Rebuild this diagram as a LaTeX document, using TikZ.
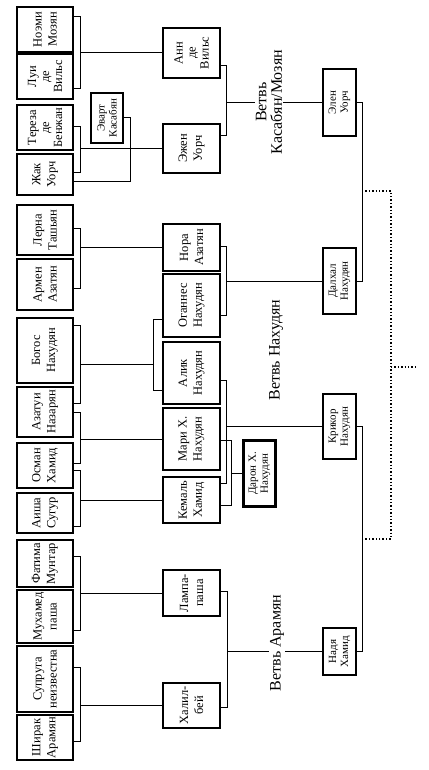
\documentclass[tikz,border=0pt]{standalone}
\usepackage{fontspec}
\setmainfont{Liberation Serif}
\newcommand\famb[7][]{%
  \pgfmathsetmacro\fbw{#6-#4}\pgfmathsetmacro\fbh{#5-#3}%
  \node[fambox,rotate=90,minimum width=\fbw pt,minimum height=\fbh pt,#1] (#2) at ({(#3+#5)/2},{(#4+#6)/2}) {#7};}
\newcommand\bracket[5]{%
  \draw[conn] (#1.south |- 0,#2) -- (#5,#2) -- (#5,#4) -- (#3.south |- 0,#4);}
\begin{document}
\begin{tikzpicture}[x=1pt,y=-1pt,
  fambox/.style={draw,line width=1.2pt,inner sep=0.5pt,outer sep=0pt,align=center,font=\fontsize{12.5}{15}\selectfont},
  three/.style={font=\fontsize{12.5}{13}\selectfont},
  small/.style={font=\fontsize{11}{12}\selectfont},
  conn/.style={line width=1pt},
  dotl/.style={line width=1.4pt,dash pattern=on 1.4pt off 2pt},
  branch/.style={rotate=90,fill=white,inner sep=1pt,align=center,font=\fontsize{16}{15.5}\selectfont}]
\useasboundingbox (0,0) rectangle (428,770);
\fill[white] (0,0) rectangle (428,770);
% left column
\famb{noemi}{17}{7}{73}{52}{Ноэми\\Мозян}
\famb[three]{lui}{17}{54}{73}{99}{Луи\\де\\Вильс}
\famb[three]{tereza}{17}{105}{73}{150}{Тереза\\де\\Бенжан}
\famb{zhak}{17}{154}{73}{195}{Жак\\Уорч}
\famb{lerna}{17}{205}{73}{255}{Лерна\\Ташьян}
\famb{armen}{17}{259}{73}{310}{Армен\\Азатян}
\famb{bogos}{17}{318}{73}{383}{Богос\\Нахудян}
\famb{azatui}{17}{387}{73}{437}{Азатуи\\Назарян}
\famb{osman}{17}{443}{73}{488}{Осман\\Хамид}
\famb{aisha}{17}{493}{73}{533}{Аиша\\Сугур}
\famb{fatima}{17}{540}{73}{587}{Фатима\\Мунтар}
\famb{muhamed}{17}{590}{73}{643}{Мухамед\\паша}
\famb{suprug}{17}{646}{73}{712}{Супруга\\неизвестна}
\famb{shirak}{17}{715}{73}{760}{Ширак\\Арамян}
\famb[small]{evart}{91}{93}{123}{143}{Эварт\\Касабян}
% middle column
\famb[three]{anne}{163}{28}{220}{78}{Анн\\де\\Вильс}
\famb{eugene}{163}{124}{220}{173}{Эжен\\Уорч}
\famb{nora}{163}{224}{220}{271}{Нора\\Азатян}
\famb{ohannes}{163}{274}{220}{337}{Оганнес\\Нахудян}
\famb{alik}{163}{342}{220}{404}{Алик\\Нахудян}
\famb{mari}{163}{408}{220}{470}{Мари Х.\\Нахудян}
\famb{kemal}{163}{477}{220}{523}{Кемаль\\Хамид}
\famb{lampa}{163}{570}{220}{616}{Лампа-\\паша}
\famb{khalil}{163}{683}{220}{728}{Халил-\\бей}
\famb[small,line width=2.6pt]{daron}{243.5}{440.5}{275.5}{506.5}{Дарон Х.\\Нахудян}
% right column
\famb[small]{elen}{323}{69}{356}{136}{Элен\\Уорч}
\famb[small]{dalhal}{323}{248}{356}{314}{Далхал\\Нахудян}
\famb[small]{krikor}{323}{394}{356}{459}{Крикор\\Нахудян}
\famb[small]{nadya}{323}{628}{356}{675}{Надя\\Хамид}
% left brackets
\bracket{noemi}{17}{lui}{89}{80}
\draw[conn] (anne.north) -- (anne.north -| 80,0);
\bracket{tereza}{127}{zhak}{173}{80}
\draw[conn] (eugene.north) -- (eugene.north -| 80,0);
\draw[conn] (evart.south) -- (evart.south -| 130,0) -- (130,181) -- (zhak.south |- 0,181);
\bracket{lerna}{228}{armen}{288}{80}
\draw[conn] (nora.north) -- (nora.north -| 80,0);
\bracket{bogos}{325}{azatui}{403}{80}
\draw[conn] (80,364) -- (153,364);
\draw[conn] (ohannes.north |- 0,319) -- (153,319) -- (153,390) -- (alik.north |- 0,390);
\bracket{azatui}{412}{osman}{463}{80}
\draw[conn] (mari.north) -- (mari.north -| 80,0);
\bracket{osman}{470}{aisha}{526}{80}
\draw[conn] (kemal.north) -- (kemal.north -| 80,0);
\bracket{fatima}{556}{muhamed}{630}{80}
\draw[conn] (lampa.north) -- (lampa.north -| 80,0);
\bracket{suprug}{667}{shirak}{741}{80}
\draw[conn] (khalil.north) -- (khalil.north -| 80,0);
% middle brackets
\bracket{anne}{66}{eugene}{136}{226}
\draw[conn] (elen.north) -- (elen.north -| 226,0);
\bracket{nora}{246}{ohannes}{315}{226}
\draw[conn] (dalhal.north) -- (dalhal.north -| 226,0);
\bracket{alik}{380}{kemal}{483}{226}
\draw[conn] (krikor.north) -- (krikor.north -| 226,0);
\bracket{mari}{440}{kemal}{505}{231}
\draw[conn] (daron.north) -- (daron.north -| 231,0);
\bracket{lampa}{591}{khalil}{707}{227}
\draw[conn] (nadya.north) -- (nadya.north -| 227,0);
% right brackets
\draw[conn] (elen.south) -- (elen.south -| 362,0) -- (dalhal.south -| 362,0) -- (dalhal.south);
\draw[conn] (krikor.south) -- (krikor.south -| 362,0) -- (nadya.south -| 362,0) -- (nadya.south);
\coordinate (d1) at (362,191);
\coordinate (d2) at (362,539);
\coordinate (nextgen) at (415,367);
\draw[dotl] (d1) -- (391,191) -- (391,539) -- (d2);
\draw[dotl] (391,367) -- (nextgen);
% branch labels
\node[branch] (lbl1) at (269,102) {Ветвь\\Касабян/Мозян};
\node[branch] (lbl2) at (276,350) {Ветвь Нахудян};
\node[branch] (lbl3) at (277,643) {Ветвь Арамян};
\end{tikzpicture}
\end{document}
